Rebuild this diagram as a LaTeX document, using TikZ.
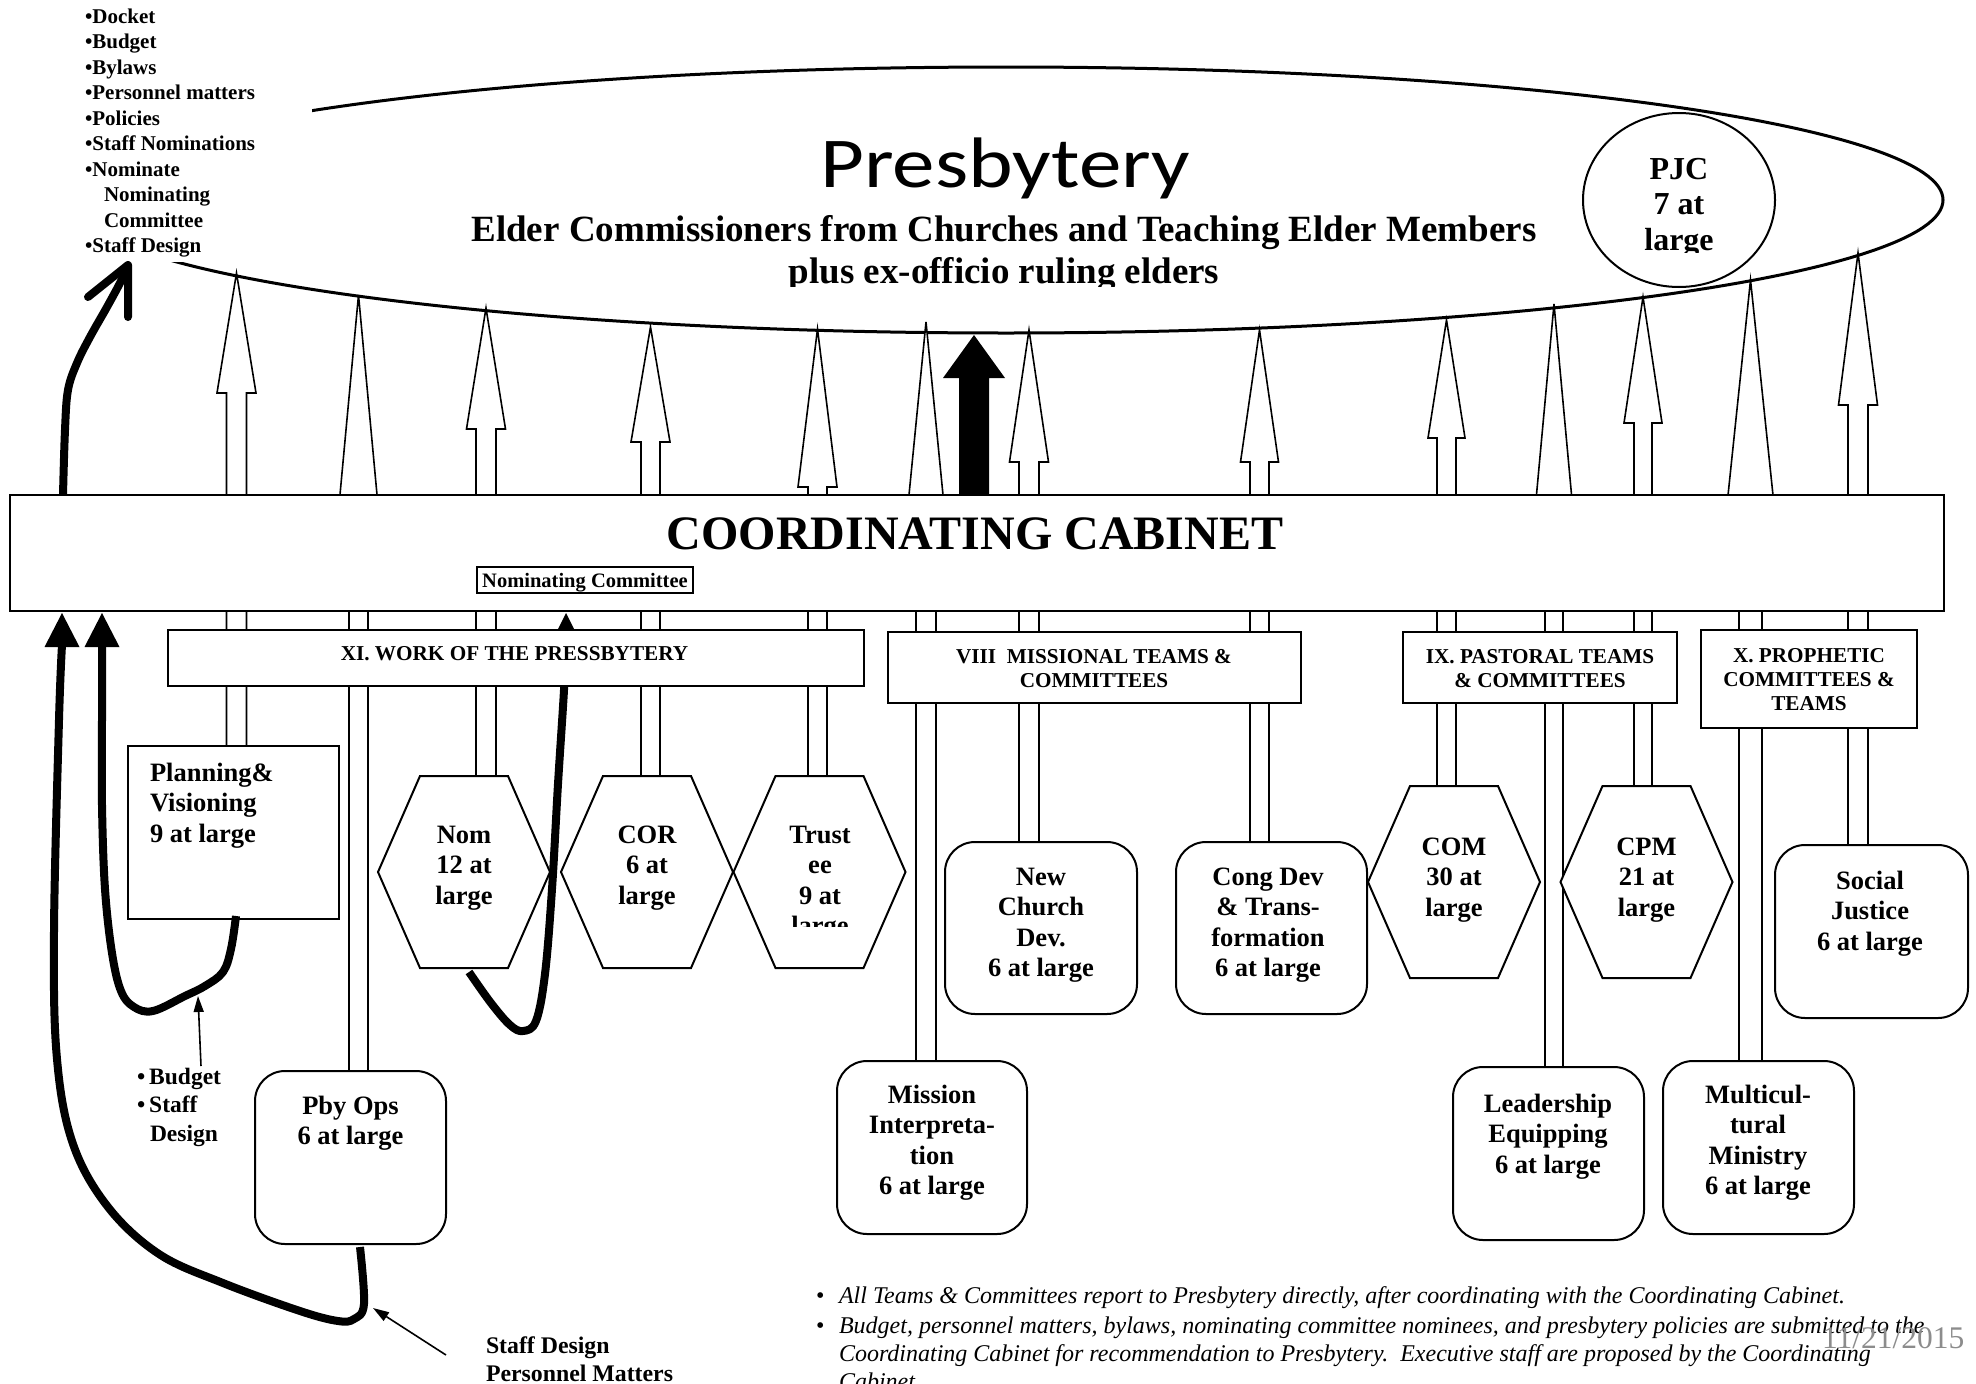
\documentclass[tikz,border=0pt]{standalone}
\usepackage{fontspec}
\setmainfont{Liberation Serif}
\newfontfamily\presfont[FakeStretch=1.19]{Carlito}
\usetikzlibrary{arrows.meta,shapes.geometric}

\newcommand\mlc[1]{\begin{tabular}[t]{@{}c@{}}#1\end{tabular}}
\newcommand\mll[1]{\begin{tabular}[t]{@{}l@{}}#1\end{tabular}}
\newcommand\uparr[6]{\filldraw[shaft] (#1-#5,#2) -- (#1-#5,#3) -- (#1-#6,#3) -- (#1,#4) -- (#1+#6,#3) -- (#1+#5,#3) -- (#1+#5,#2) -- cycle;}
\newcommand\hexat[2]{\filldraw[hexbox] (#1-86,#2) -- (#1-44,#2-96) -- (#1+44,#2-96) -- (#1+86,#2) -- (#1+44,#2+96) -- (#1-44,#2+96) -- cycle;}

\begin{document}
\begin{tikzpicture}[x=1pt,y=-1pt,
  box/.style={draw, line width=2pt, fill=white, inner sep=0pt, outer sep=0pt},
  rbox/.style={box, rounded corners=30pt},
  hexbox/.style={draw, line width=2pt, fill=white, line join=miter},
  shaft/.style={draw, line width=1.6pt, fill=white, line join=miter},
  txt/.style={inner sep=0pt, outer sep=0pt, anchor=base, font=\fontsize{26.5}{30.5}\selectfont\bfseries},
  ltxt/.style={txt, anchor=base west},
  grouptxt/.style={txt, font=\fontsize{21.2}{24}\selectfont\bfseries},
  heavy/.style={line width=8pt, line cap=butt, line join=round},
  note/.style={line width=1.6pt, -{Triangle[length=16pt, width=10pt]}},
  foot/.style={ltxt, font=\fontsize{24}{28}\selectfont\itshape},
]
\path[use as bounding box] (0,0) rectangle (1976,1384);

% Presbytery ellipse
\node[draw, ellipse, line width=3pt, minimum width=1874, minimum height=266, inner sep=0pt] (pres) at (1006,200) {};
\fill[white] (0,0) rectangle (312,262);
\node[ltxt, font=\fontsize{21}{25.5}\selectfont\bfseries] (agenda) at (85,23)
  {\mll{•Docket\\•Budget\\•Bylaws\\•Personnel matters\\•Policies\\•Staff Nominations\\•Nominate\\\hspace*{19pt}Nominating\\\hspace*{19pt}Committee\\•Staff Design}};

% PJC
\node[draw, ellipse, line width=2pt, minimum width=192, minimum height=174, inner sep=0pt] (pjc) at (1679,200) {};
\begin{scope}
  \clip (1590,120) rectangle (1770,252);
  \node[txt, font=\fontsize{32}{35.5}\selectfont\bfseries] (pjctxt) at (1679,179) {\mlc{PJC\\7 at\\large}};
\end{scope}

% Presbytery texts
\node[txt, font=\presfont\fontsize{71.5}{84}\selectfont] (prestitle) at (1005,187) {Presbytery};
\node[txt, font=\fontsize{37}{42}\selectfont\bfseries] (elders1) at (1004,241) {Elder Commissioners from Churches and Teaching Elder Members};
\begin{scope}
  \clip (600,250) rectangle (1400,286);
  \node[txt, font=\fontsize{37}{42}\selectfont\bfseries] (elders2) at (1004,283) {plus ex-officio ruling elders};
\end{scope}

% upward arrows (shafts pass behind the cabinet and group boxes)
\uparr{236.5}{748}{393}{273}{10}{19.5}
\uparr{358.5}{1073}{500}{295}{9.5}{19}
\uparr{486}{778}{429}{308}{10}{19.5}
\uparr{650.5}{778}{442}{327}{9.5}{19.5}
\uparr{817.5}{778}{487}{329}{9.5}{19.5}
\uparr{926}{1063}{500}{322}{10}{17.5}
\uparr{1029}{844}{462}{330}{10}{19.5}
\uparr{1259.5}{847}{462}{330}{9.5}{19}
\uparr{1446.5}{788}{438}{320}{9.5}{18.5}
\uparr{1554}{1073}{500}{304}{9}{18}
\uparr{1643}{788}{423}{297}{9}{19}
\uparr{1750.5}{1063}{500}{280}{11.5}{23}
\uparr{1858}{847}{405}{253}{10}{19.5}
\fill[black] (959,497) -- (959,378) -- (943,378) -- (974,335) -- (1005,378) -- (989,378) -- (989,497) -- cycle;

% Nom -> cabinet heavy curve (behind group box)
\draw[heavy] plot[smooth, tension=0.6] coordinates {(469,972) (491,1003) (510,1025) (523,1031) (536,1021) (545,974) (552,889) (558,784) (564,690) (566,640)};

% Coordinating cabinet
\node[box, minimum width=1934, minimum height=116] (cab) at (977,553) {};
\node[txt, font=\fontsize{48}{52}\selectfont\bfseries] (cabtxt) at (975,549) {COORDINATING CABINET};
\node[box, minimum width=216, minimum height=26] (nomc) at (585,580) {};
\node[txt, font=\fontsize{20.5}{24}\selectfont\bfseries] (nomctxt) at (585,587) {Nominating Committee};
\fill (556.5,632) -- (566,613) -- (575.5,632) -- cycle;
\fill (44.5,647) -- (62,613) -- (79.5,647) -- cycle;
\fill (84.5,647) -- (102,613) -- (119.5,647) -- cycle;

% cabinet -> agenda heavy arrow
\draw[heavy] plot[smooth, tension=0.6] coordinates {(63,495) (65,430) (68,390) (77,363) (90,337) (107,307) (120,283) (127,268)};
\draw[line width=8pt, line cap=round, line join=round] (88,297) -- (128,265) -- (128,317);

% group boxes
\node[box, minimum width=696, minimum height=56] (grpXI) at (516,658) {};
\node[grouptxt] (grpXItxt) at (514.5,660) {XI. WORK OF THE PRESSBYTERY};
\node[box, minimum width=413, minimum height=71] (grpVIII) at (1094.5,667.5) {};
\node[grouptxt] (grpVIIItxt) at (1094,663) {\mlc{VIII\ \ MISSIONAL TEAMS \&\\COMMITTEES}};
\node[box, minimum width=274, minimum height=71] (grpIX) at (1540,667.5) {};
\node[grouptxt] (grpIXtxt) at (1540,663) {\mlc{IX. PASTORAL TEAMS\\\& COMMITTEES}};
\node[box, minimum width=216, minimum height=98] (grpX) at (1809,679) {};
\node[grouptxt] (grpXtxt) at (1809,662) {\mlc{X. PROPHETIC\\COMMITTEES \&\\TEAMS}};

% committees
\node[box, minimum width=211, minimum height=173] (plan) at (233.5,832.5) {};
\node[ltxt] (plantxt) at (150,781) {\mll{Planning\&\\Visioning\\9 at large}};
\node[rbox, minimum width=191, minimum height=173] (pbyops) at (350.5,1157.5) {};
\node[txt] (pbyopstxt) at (350.5,1114) {\mlc{Pby Ops\\6 at large}};
\hexat{464}{872}
\node[txt] (nom) at (464,843) {\mlc{Nom\\12 at\\large}};
\hexat{647}{872}
\node[txt] (cor) at (647,843) {\mlc{COR\\6 at\\large}};
\hexat{819.5}{872}
\begin{scope}
  \clip (740,800) rectangle (900,926);
  \node[txt] (trustee) at (820,843) {\mlc{Trust\\ee\\9 at\\large}};
\end{scope}
\node[rbox, minimum width=190, minimum height=173] (mission) at (932,1147.5) {};
\node[txt] (missiontxt) at (932,1103) {\mlc{Mission\\Interpreta-\\tion\\6 at large}};
\node[rbox, minimum width=192, minimum height=172] (ncd) at (1041,928) {};
\node[txt] (ncdtxt) at (1041,885) {\mlc{New\\Church\\Dev.\\6 at large}};
\node[rbox, minimum width=191, minimum height=172] (cong) at (1271.5,928) {};
\node[txt] (congtxt) at (1268,885) {\mlc{Cong Dev\\\& Trans-\\formation\\6 at large}};
\hexat{1454}{882}
\node[txt] (com) at (1454,855) {\mlc{COM\\30 at\\large}};
\hexat{1646.5}{882}
\node[txt] (cpm) at (1646.5,855) {\mlc{CPM\\21 at\\large}};
\node[rbox, minimum width=191, minimum height=173] (lead) at (1548.5,1153.5) {};
\node[txt] (leadtxt) at (1548,1112) {\mlc{Leadership\\Equipping\\6 at large}};
\node[rbox, minimum width=191, minimum height=173] (multi) at (1758.5,1147.5) {};
\node[txt] (multitxt) at (1758,1103) {\mlc{Multicul-\\tural\\Ministry\\6 at large}};
\node[rbox, minimum width=193, minimum height=173] (social) at (1871.5,931.5) {};
\node[txt] (socialtxt) at (1870,889) {\mlc{Social\\Justice\\6 at large}};

% heavy curves from Planning and Pby Ops to the cabinet
\draw[heavy] plot[smooth, tension=0.6] coordinates {(236,916) (231,949) (223,972) (205,986) (185,996) (153,1011) (134,1007) (121,991) (112,953) (105,889) (102,805) (102,720) (102,645)};
\draw[heavy] plot[smooth, tension=0.6] coordinates {(360,1247) (364,1304) (354,1319) (338,1321) (300,1311) (223,1283) (159,1254) (108,1207) (73,1144) (57,1059) (54,932) (59,720) (62,645)};

% annotations
\node[ltxt, font=\fontsize{23.5}{28.5}\selectfont\bfseries] (budgetlbl) at (137,1084) {\mll{•\hspace{4pt}Budget\\•\hspace{4pt}Staff\\\hspace*{13pt}Design}};
\coordinate (budgetfrom) at (201,1066);
\coordinate (budgetto) at (198,996);
\draw[note] (budgetfrom) -- (budgetto);
\node[ltxt, font=\fontsize{23.8}{28}\selectfont\bfseries] (stafflbl) at (486,1353) {\mll{Staff Design\\Personnel Matters}};
\coordinate (stafffrom) at (446,1355);
\coordinate (staffto) at (373,1308);
\draw[note] (stafffrom) -- (staffto);

% footnotes
\node[ltxt, font=\fontsize{24}{28}\selectfont] (b1) at (816,1303) {•};
\node[foot] (n1) at (839,1303) {All Teams \& Committees report to Presbytery directly, after coordinating with the Coordinating Cabinet.};
\node[ltxt, font=\fontsize{24}{28}\selectfont] (b2) at (816,1333) {•};
\node[foot] (n2) at (839,1333) {\mll{Budget, personnel matters, bylaws, nominating committee nominees, and presbytery policies are submitted to the\\Coordinating Cabinet for recommendation to Presbytery.\ \ Executive staff are proposed by the Coordinating\\Cabinet.}};
\node[ltxt, font=\fontsize{31.5}{34}\selectfont, text=black!45] (date) at (1822,1348) {11/21/2015};
\end{tikzpicture}
\end{document}
